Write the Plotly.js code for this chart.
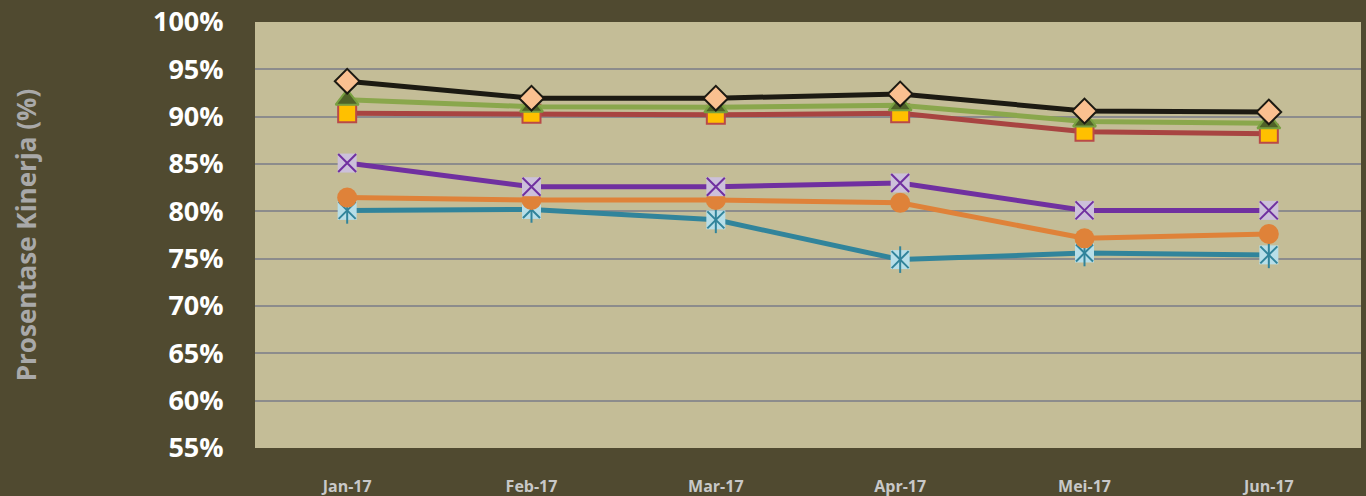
<!DOCTYPE html>
<html>
<head>
<meta charset="utf-8">
<script src="https://cdn.plot.ly/plotly-3.0.1.min.js"></script>
<style>html,body{margin:0;padding:0;background:#504a30;}#chart{width:1366px;height:496px;}</style>
</head>
<body>
<div id="chart"></div>
<script>
const months = ["Jan-17", "Feb-17", "Mar-17", "Apr-17", "Mei-17", "Jun-17"];
const seriesTeal   = [80.1, 80.2, 79.1, 74.9, 75.6, 75.4];
const seriesOrange = [81.45, 81.2, 81.2, 80.9, 77.15, 77.6];
const seriesPurple = [85.1, 82.6, 82.6, 83.0, 80.1, 80.1];
const seriesRed    = [90.35, 90.3, 90.2, 90.35, 88.4, 88.2];
const seriesGreen  = [91.8, 91.05, 91.0, 91.2, 89.5, 89.3];
const seriesBlack  = [93.75, 91.95, 91.95, 92.4, 90.6, 90.5];
const yTicks = [55, 60, 65, 70, 75, 80, 85, 90, 95, 100];
const yTickLabels = ["55%", "60%", "65%", "70%", "75%", "80%", "85%", "90%", "95%", "100%"];

const traces = [
  {x: months, y: seriesTeal, mode: "lines+markers", line: {color: "#31849b", width: 5},
   marker: {symbol: "square", size: 19, color: "#b7dee8", line: {width: 0}}},
  {x: months, y: seriesTeal, mode: "markers",
   marker: {symbol: "x-thin-open", size: 17, color: "#31849b", line: {color: "#31849b", width: 2}}},
  {x: months, y: seriesTeal, mode: "markers",
   marker: {symbol: "line-ns-open", size: 19, color: "#31849b", line: {color: "#31849b", width: 2}}},
  {x: months, y: seriesOrange, mode: "lines+markers", line: {color: "#df8239", width: 5},
   marker: {symbol: "circle", size: 20, color: "#df8239", line: {width: 0}}},
  {x: months, y: seriesPurple, mode: "lines+markers", line: {color: "#7030a0", width: 5},
   marker: {symbol: "square", size: 19, color: "#ccc0da", line: {width: 0}}},
  {x: months, y: seriesPurple, mode: "markers",
   marker: {symbol: "x-thin-open", size: 18, color: "#7030a0", line: {color: "#7030a0", width: 2}}},
  {x: months, y: seriesRed, mode: "lines+markers", line: {color: "#a84441", width: 5},
   marker: {symbol: "square", size: 18, color: "#ffc000", line: {color: "#b94a47", width: 2}}},
  {x: months, y: seriesGreen, mode: "lines+markers", line: {color: "#8aa74c", width: 5},
   marker: {symbol: "triangle-up", size: 20, color: "#4f6228", line: {color: "#78a040", width: 2}}},
  {x: months, y: seriesBlack, mode: "lines+markers", line: {color: "#1c1a12", width: 5},
   marker: {symbol: "diamond", size: 19, color: "#fac090", line: {color: "#1c1a12", width: 2}}}
];

const layout = {
  width: 1366, height: 496,
  paper_bgcolor: "#504a30",
  plot_bgcolor: "#c4bd97",
  showlegend: false,
  margin: {l: 255, r: 5, t: 22, b: 48},
  xaxis: {
    type: "category", range: [-0.5, 5.5], showgrid: false, zeroline: false,
    showline: false, ticks: "outside", ticklen: 0, ticklabelstandoff: 24,
    tickfont: {family: "Open Sans", size: 16, color: "#c8c8c8", weight: "bold"}
  },
  yaxis: {
    range: [55, 100], tickmode: "array", tickvals: yTicks, ticktext: yTickLabels,
    showgrid: true, gridcolor: "#8c8c8c", gridwidth: 2, zeroline: false,
    showline: false, ticks: "outside", ticklen: 0, ticklabelstandoff: 25,
    tickfont: {family: "Open Sans", size: 27, color: "#ffffff", weight: "bold"},
    title: {text: "Prosentase Kinerja (%)", standoff: 108,
      font: {family: "Open Sans", size: 26, color: "#a9a9a9", weight: "bold"}}
  }
};
Plotly.newPlot("chart", traces, layout, {displayModeBar: false, staticPlot: true});
</script>
</body>
</html>
